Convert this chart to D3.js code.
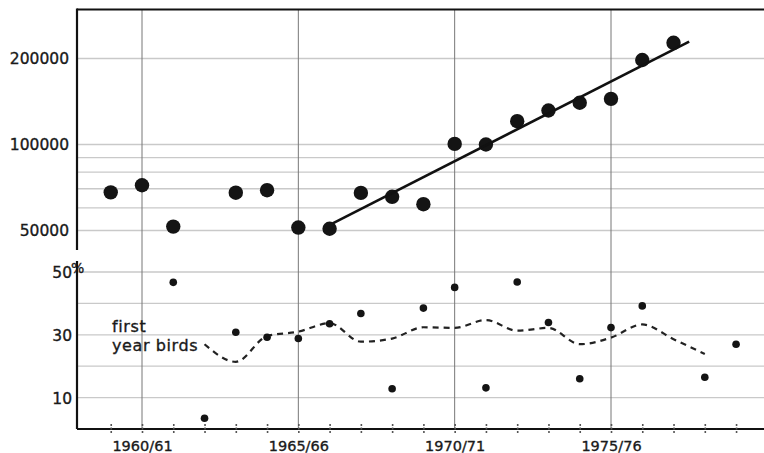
<!DOCTYPE html>
<html>
<head>
<meta charset="utf-8">
<script src="https://cdn.jsdelivr.net/npm/d3@7"></script>
<style>
  html, body { margin: 0; padding: 0; background: #fff; }
  svg { display: block; }
  text { font-family: "DejaVu Sans", "Liberation Sans", sans-serif; fill: #1a1a1a; stroke: #1a1a1a; stroke-width: 0.35px; }
</style>
</head>
<body>
<svg id="chart" width="764" height="453"></svg>
<script>
// Population size (log scale), winter seasons 1959/60 .. 1977/78
const popYears  = [1959, 1960, 1961, 1963, 1964, 1965, 1966, 1967, 1968, 1969, 1970, 1971, 1972, 1973, 1974, 1975, 1976, 1977];
const popValues = [68000, 72000, 51600, 67800, 69200, 51200, 50700, 67700, 65600, 61800, 100500, 100000, 120700, 131500, 140000, 144500, 197600, 227000];

// Percentage of first year birds
const pctYears  = [1961, 1962, 1963, 1964, 1965, 1966, 1967, 1968, 1969, 1970, 1971, 1972, 1973, 1974, 1975, 1976, 1978, 1979];
const pctValues = [46.7, 3.4, 30.8, 29.2, 28.8, 33.5, 36.8, 12.8, 38.5, 45.1, 13.1, 46.8, 33.9, 16.0, 32.3, 39.2, 16.5, 27.0];

// Smoothed (dashed) line of first year birds
const meanYears  = [1962, 1963, 1964, 1965, 1966, 1967, 1968, 1969, 1970, 1971, 1972, 1973, 1974, 1975, 1976, 1977, 1978];
const meanValues = [27.0, 21.4, 29.6, 31.0, 33.7, 27.8, 28.8, 32.4, 32.2, 34.7, 31.3, 32.2, 27.0, 29.1, 33.3, 28.6, 23.9];

// Tick labels / gridlines
const popTicks   = [50000, 100000, 200000];
const popGrid    = [50000, 60000, 70000, 80000, 90000, 100000, 200000];
const pctTicks   = [10, 30, 50];
const pctGrid    = [10, 20, 30, 40, 50];
const tickYears  = d3.range(1959, 1980);
const labelYears = [1960, 1965, 1970, 1975];
const trendFit   = [1966, 1977];      // seasons used for the regression
const trendSpan  = [1966.1, 1977.5];  // drawn extent of the fitted line

const svg = d3.select('#chart');
const plotLeft = 77, plotRight = 764, plotTop = 9.5, plotBottom = 429;

const x = d3.scaleLinear().domain([1960, 1975]).range([142, 611]);
const yPop = d3.scaleLog().domain([50000, 200000]).range([230.5, 58.5]);
const yPct = d3.scaleLinear().domain([0, 50]).range([plotBottom, 272]);

const season = y => `${y}/${String((y + 1) % 100).padStart(2, '0')}`;

// Horizontal gridlines
const grid = svg.append('g').attr('stroke', '#c9c9c9').attr('stroke-width', 1.3);
grid.selectAll('.gp').data(popGrid).enter().append('line')
  .attr('x1', plotLeft).attr('x2', plotRight)
  .attr('y1', d => yPop(d)).attr('y2', d => yPop(d));
grid.selectAll('.gq').data(pctGrid).enter().append('line')
  .attr('x1', plotLeft).attr('x2', plotRight)
  .attr('y1', d => yPct(d)).attr('y2', d => yPct(d));

// Vertical gridlines at labelled seasons
svg.append('g').selectAll('line').data(labelYears).enter().append('line')
  .attr('x1', d => x(d)).attr('x2', d => x(d))
  .attr('y1', plotTop).attr('y2', plotBottom)
  .attr('stroke', '#777').attr('stroke-width', 1);

// Frame: top line, broken left axis
const frame = svg.append('g').attr('stroke', '#111').attr('stroke-width', 2.2);
frame.append('line').attr('x1', plotLeft).attr('x2', plotRight).attr('y1', plotTop).attr('y2', plotTop);
frame.append('line').attr('x1', plotLeft).attr('x2', plotLeft).attr('y1', plotTop - 1).attr('y2', 250);
frame.append('line').attr('x1', plotLeft).attr('x2', plotLeft).attr('y1', 261).attr('y2', plotBottom);

const xAxis = d3.axisBottom(x)
  .tickValues(tickYears)
  .tickSize(0)
  .tickFormat(d => labelYears.includes(d) ? season(d) : '');

const gx = svg.append('g')
  .attr('transform', `translate(0,${plotBottom})`)
  .call(xAxis);
gx.select('.domain').remove();
gx.selectAll('.tick line').remove();
gx.selectAll('.tick').append('line')
  .attr('y1', -5).attr('y2', 4)
  .attr('stroke', '#555').attr('stroke-width', 1.6)
  .attr('stroke-dasharray', '2,1.5');
gx.selectAll('.tick text')
  .attr('y', 22).attr('dy', 0)
  .attr('fill', '#1a1a1a')
  .style('font-size', '14.5px')
  .style('font-family', '"DejaVu Sans", "Liberation Sans", sans-serif');

// Bottom axis line
frame.append('line').attr('x1', plotLeft).attr('x2', plotRight).attr('y1', plotBottom).attr('y2', plotBottom);

// Y tick labels
svg.append('g').selectAll('text').data(popTicks).enter().append('text')
  .attr('x', 69).attr('y', d => yPop(d) + 5.8)
  .attr('text-anchor', 'end')
  .style('font-size', '15.5px')
  .text(d => d);
svg.append('g').selectAll('text').data(pctTicks).enter().append('text')
  .attr('x', 72).attr('y', d => yPct(d) + 6)
  .attr('text-anchor', 'end')
  .style('font-size', '15.5px')
  .text(d => d);
svg.append('text').attr('x', 71).attr('y', yPct(50) + 0.5)
  .style('font-size', '14px').text('%');

// Population dots
svg.append('g').selectAll('circle').data(popYears).enter().append('circle')
  .attr('cx', d => x(d))
  .attr('cy', (d, i) => yPop(popValues[i]))
  .attr('r', 7.2)
  .attr('fill', '#141414');

// Regression line on log values
const fit = popYears.map((d, i) => ({ x: d, y: Math.log10(popValues[i]) }))
  .filter(d => d.x >= trendFit[0] && d.x <= trendFit[1]);
const mx = d3.mean(fit, d => d.x), my = d3.mean(fit, d => d.y);
const slope = d3.sum(fit, d => (d.x - mx) * (d.y - my)) / d3.sum(fit, d => (d.x - mx) ** 2);
const intercept = my - slope * mx;
svg.append('path')
  .datum(trendSpan)
  .attr('fill', 'none')
  .attr('stroke', '#111')
  .attr('stroke-width', 2.6)
  .attr('d', d3.line().x(d => x(d)).y(d => yPop(Math.pow(10, slope * d + intercept))));

// Dashed smoothed line
svg.append('path')
  .datum(meanYears.map((d, i) => [d, meanValues[i]]))
  .attr('fill', 'none')
  .attr('stroke', '#222')
  .attr('stroke-width', 2.2)
  .attr('stroke-dasharray', '6,5')
  .attr('d', d3.line().x(d => x(d[0])).y(d => yPct(d[1])).curve(d3.curveMonotoneX));

// First-year percentage dots
svg.append('g').selectAll('circle').data(pctYears).enter().append('circle')
  .attr('cx', d => x(d))
  .attr('cy', (d, i) => yPct(pctValues[i]))
  .attr('r', 3.8)
  .attr('fill', '#141414');

// Label
const lab = svg.append('text').style('font-size', '16px').style('letter-spacing', '0.6px');
lab.append('tspan').attr('x', 112).attr('y', 331.5).text('first');
lab.append('tspan').attr('x', 112).attr('y', 350.5).text('year birds');
</script>
</body>
</html>
